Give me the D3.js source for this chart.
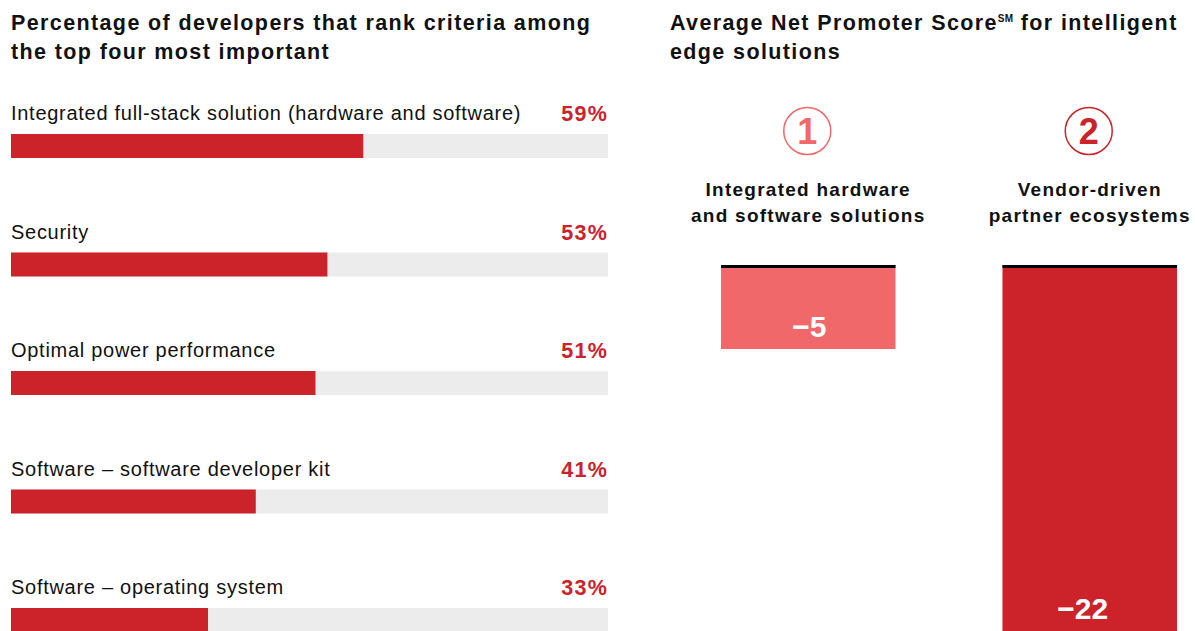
<!DOCTYPE html>
<html>
<head>
<meta charset="utf-8">
<script src="https://cdn.jsdelivr.net/npm/d3@7"></script>
<style>
  html, body { margin: 0; padding: 0; background: #fff; }
  svg { display: block; font-family: "Liberation Sans", Arial, sans-serif; }
</style>
</head>
<body>
<svg id="chart" width="1195" height="631"></svg>
<script>
// Criteria ranked among the top four most important
const criteria = [
  "Integrated full-stack solution (hardware and software)",
  "Security",
  "Optimal power performance",
  "Software \u2013 software developer kit",
  "Software \u2013 operating system"
];
const criteriaShare = [59, 53, 51, 41, 33];

// Average Net Promoter Score by solution type
const solutionRanks = ["1", "2"];
const solutionNames = [
  ["Integrated hardware", "and software solutions"],
  ["Vendor-driven", "partner ecosystems"]
];
const npsValues = [-5, -22];

const RED = "#cc2229";
const LIGHT_RED = "#f0686a";
const TRACK = "#ebeceb";
const WIDTH = 1195, HEIGHT = 631;

const svg = d3.select("#chart");

// ---------- Left panel: horizontal progress bars ----------
const left = svg.append("g");
left.append("text")
  .attr("x", 11).attr("y", 30)
  .attr("font-size", 21.5).attr("font-weight", "bold").attr("fill", "#111")
  .attr("letter-spacing", 1.38)
  .selectAll("tspan")
  .data(["Percentage of developers that rank criteria among", "the top four most important"])
  .join("tspan")
  .attr("x", 11)
  .attr("dy", (d, i) => i === 0 ? 0 : 29)
  .text(d => d);

const x = d3.scaleLinear().domain([0, 100]).range([11, 608]);
const rowY = d3.scalePoint().domain(d3.range(criteria.length)).range([134, 608]);
const barH = 24;

const rows = left.selectAll("g.row")
  .data(criteria.map((c, i) => ({ name: c, value: criteriaShare[i], i })))
  .join("g").attr("class", "row")
  .attr("transform", d => `translate(0,${rowY(d.i)})`);

rows.append("rect")
  .attr("x", x(0)).attr("y", 0)
  .attr("width", x(100) - x(0)).attr("height", barH)
  .attr("fill", TRACK);

rows.append("rect")
  .attr("x", x(0)).attr("y", 0)
  .attr("width", d => x(d.value) - x(0)).attr("height", barH)
  .attr("fill", RED);

rows.append("text")
  .attr("x", 11).attr("y", -14)
  .attr("font-size", 20).attr("fill", "#111")
  .attr("letter-spacing", 0.72)
  .text(d => d.name);

rows.append("text")
  .attr("x", 608).attr("y", -13)
  .attr("text-anchor", "end")
  .attr("font-size", 21.5).attr("font-weight", "bold").attr("fill", RED)
  .attr("letter-spacing", 1.2)
  .text(d => d.value + "%");

// ---------- Right panel: NPS columns ----------
const right = svg.append("g");
const title2 = right.append("text")
  .attr("x", 670).attr("y", 30)
  .attr("font-size", 21.5).attr("font-weight", "bold").attr("fill", "#111")
  .attr("letter-spacing", 1.38);
title2.append("tspan").attr("x", 670).text("Average Net Promoter Score");
title2.append("tspan").attr("font-size", 10).attr("dy", -8).attr("letter-spacing", 0.3).text("SM");
title2.append("tspan").attr("dy", 8).text(" for intelligent");
title2.append("tspan").attr("x", 670).attr("dy", 29).text("edge solutions");

const colX = d3.scaleBand().domain(d3.range(npsValues.length)).range([721, 1177]).paddingInner(0.38).paddingOuter(0);
const colColors = [LIGHT_RED, RED];
const baseY = 265;
const y = d3.scaleLinear().domain([0, -5]).range([baseY, 349]);

const cols = right.selectAll("g.col")
  .data(npsValues.map((v, i) => ({ v, i })))
  .join("g").attr("class", "col");

const cx = d => colX(d.i) + colX.bandwidth() / 2;

cols.append("circle")
  .attr("cx", d => cx(d) - 1).attr("cy", 131).attr("r", 23.5)
  .attr("fill", "none").attr("stroke", d => colColors[d.i]).attr("stroke-width", 1.5);

cols.append("text")
  .attr("x", d => cx(d) - 1).attr("y", 144)
  .attr("text-anchor", "middle")
  .attr("font-size", 36).attr("font-weight", "bold")
  .attr("fill", d => colColors[d.i])
  .text(d => solutionRanks[d.i]);

cols.append("text")
  .attr("text-anchor", "middle")
  .attr("font-size", 19).attr("font-weight", "bold").attr("fill", "#111")
  .attr("letter-spacing", 1.25)
  .selectAll("tspan")
  .data(d => solutionNames[d.i].map(s => ({ s, c: cx(d) })))
  .join("tspan")
  .attr("x", d => d.c)
  .attr("y", (d, j) => 196 + j * 26)
  .text(d => d.s);

cols.append("rect")
  .attr("x", d => colX(d.i)).attr("y", baseY)
  .attr("width", colX.bandwidth())
  .attr("height", d => y(d.v) - baseY)
  .attr("fill", d => colColors[d.i]);

// zero baseline drawn along the top edge of each column
cols.append("line")
  .attr("x1", d => colX(d.i)).attr("x2", d => colX(d.i) + colX.bandwidth())
  .attr("y1", baseY + 1.5).attr("y2", baseY + 1.5)
  .attr("stroke", "#000").attr("stroke-width", 3);

// value labels sit just above the visible bottom of each column
cols.append("text")
  .attr("x", d => cx(d) + (d.i === 0 ? 1 : -7))
  .attr("y", d => Math.min(y(d.v), HEIGHT) - 12)
  .attr("text-anchor", "middle")
  .attr("font-size", 30).attr("font-weight", "bold").attr("fill", "#fff")
  .text(d => "\u2212" + Math.abs(d.v));
</script>
</body>
</html>
